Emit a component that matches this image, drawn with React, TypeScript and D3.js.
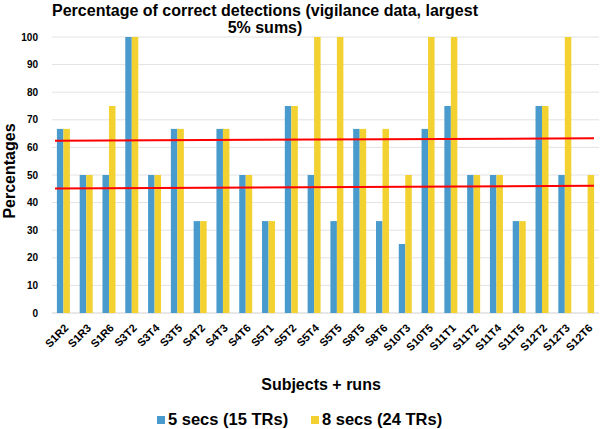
import React, { useRef, useEffect } from "react";
import * as d3 from "d3";

const categories = [
  "S1R2", "S1R3", "S1R6", "S3T2", "S3T4", "S3T5", "S4T2", "S4T3",
  "S4T6", "S5T1", "S5T2", "S5T4", "S5T5", "S8T5", "S8T6", "S10T3",
  "S10T5", "S11T1", "S11T2", "S11T4", "S11T5", "S12T2", "S12T3", "S12T6",
];
const fiveSecs = [
  66.7, 50, 50, 100, 50, 66.7, 33.3, 66.7, 50, 33.3, 75, 50, 33.3, 66.7,
  33.3, 25, 66.7, 75, 50, 50, 33.3, 75, 50, 0,
];
const eightSecs = [
  66.7, 50, 75, 100, 50, 66.7, 33.3, 66.7, 50, 33.3, 75, 100, 100, 66.7,
  66.7, 50, 100, 100, 50, 50, 33.3, 75, 100, 50,
];
// linear trend lines, value at start and end
const trendHigh = [62.4, 63.3];
const trendLow = [45.1, 46.1];
const yTicks = [0, 10, 20, 30, 40, 50, 60, 70, 80, 90, 100];
const seriesNames = ["5 secs (15 TRs)", "8 secs (24 TRs)"];

const BLUE = "#4A9BCD";
const YELLOW = "#F2D130";
const FONT = "'Liberation Sans', Arial, sans-serif";

export default function App() {
  const svgRef = useRef<SVGSVGElement>(null);

  useEffect(() => {
    const width = 600;
    const height = 429;
    const margin = { top: 37, right: 1, bottom: 116, left: 52 };
    const svg = d3.select(svgRef.current);
    svg.selectAll("*").remove();
    svg.attr("width", width).attr("height", height);

    const x = d3
      .scaleBand()
      .domain(categories)
      .range([margin.left, width - margin.right])
      .paddingInner(0.43)
      .paddingOuter(0.215);
    const x1 = d3.scaleBand().domain(["a", "b"]).range([0, x.bandwidth()]);
    const y = d3
      .scaleLinear()
      .domain([0, 100])
      .range([height - margin.bottom, margin.top]);

    // gridlines
    svg
      .append("g")
      .selectAll("line")
      .data(yTicks)
      .join("line")
      .attr("x1", margin.left)
      .attr("x2", width - margin.right)
      .attr("y1", (d) => y(d))
      .attr("y2", (d) => y(d))
      .attr("stroke", (d) => (d === 0 ? "#D0D0D0" : "#E2E2E2"))
      .attr("stroke-width", 1);

    // y tick labels
    svg
      .append("g")
      .selectAll("text")
      .data(yTicks)
      .join("text")
      .attr("x", 38)
      .attr("y", (d) => y(d))
      .attr("dy", "0.35em")
      .attr("text-anchor", "end")
      .attr("font-family", FONT)
      .attr("font-weight", "bold")
      .attr("font-size", 10)
      .attr("fill", "#000")
      .text((d) => d);

    // bars
    const groups = svg
      .append("g")
      .selectAll("g")
      .data(categories)
      .join("g")
      .attr("transform", (d) => `translate(${x(d)},0)`);
    groups
      .append("rect")
      .attr("x", x1("a")!)
      .attr("width", x1.bandwidth())
      .attr("y", (d, i) => y(fiveSecs[i]))
      .attr("height", (d, i) => y(0) - y(fiveSecs[i]))
      .attr("fill", BLUE);
    groups
      .append("rect")
      .attr("x", x1("b")!)
      .attr("width", x1.bandwidth())
      .attr("y", (d, i) => y(eightSecs[i]))
      .attr("height", (d, i) => y(0) - y(eightSecs[i]))
      .attr("fill", YELLOW);

    // trend lines
    const tx0 = margin.left + 3;
    const tx1 = width - margin.right - 5;
    [trendHigh, trendLow].forEach((t) => {
      svg
        .append("line")
        .attr("x1", tx0)
        .attr("x2", tx1)
        .attr("y1", y(t[0]))
        .attr("y2", y(t[1]))
        .attr("stroke", "#FF0000")
        .attr("stroke-width", 2);
    });

    // x labels
    svg
      .append("g")
      .selectAll("text")
      .data(categories)
      .join("text")
      .attr(
        "transform",
        (d) => `translate(${x(d)! + x.bandwidth() / 2 + 3},${y(0) + 13}) rotate(-45)`
      )
      .attr("text-anchor", "end")
      .attr("dy", "0.35em")
      .attr("font-family", FONT)
      .attr("font-weight", "bold")
      .attr("font-size", 11)
      .attr("fill", "#000")
      .text((d) => d);

    // title
    const title = svg
      .append("text")
      .attr("text-anchor", "middle")
      .attr("font-family", FONT)
      .attr("font-weight", "bold")
      .attr("font-size", 16)
      .attr("fill", "#000");
    title.append("tspan").attr("x", 265).attr("y", 16).text("Percentage of correct detections (vigilance data, largest");
    title.append("tspan").attr("x", 265).attr("y", 33).text("5% sums)");

    // axis titles
    svg
      .append("text")
      .attr("transform", `translate(15,${(y(0) + y(100)) / 2 - 4}) rotate(-90)`)
      .attr("text-anchor", "middle")
      .attr("font-family", FONT)
      .attr("font-weight", "bold")
      .attr("font-size", 16)
      .attr("fill", "#000")
      .text("Percentages");
    svg
      .append("text")
      .attr("x", 321)
      .attr("y", 390)
      .attr("text-anchor", "middle")
      .attr("font-family", FONT)
      .attr("font-weight", "bold")
      .attr("font-size", 16)
      .attr("fill", "#000")
      .text("Subjects + runs");

    // legend
    const legendX = [157, 311];
    const legendColors = [BLUE, YELLOW];
    seriesNames.forEach((name, i) => {
      svg
        .append("rect")
        .attr("x", legendX[i])
        .attr("y", 416)
        .attr("width", 8)
        .attr("height", 8)
        .attr("fill", legendColors[i]);
      svg
        .append("text")
        .attr("x", legendX[i] + 11)
        .attr("y", 425)
        .attr("font-family", FONT)
        .attr("font-weight", "bold")
        .attr("font-size", 16.5)
        .attr("fill", "#000")
        .text(name);
    });
  }, []);

  return (
    <div style={{ position: "absolute", left: 0, top: 0, background: "#fff" }}>
      <svg ref={svgRef} style={{ display: "block" }}></svg>
    </div>
  );
}
